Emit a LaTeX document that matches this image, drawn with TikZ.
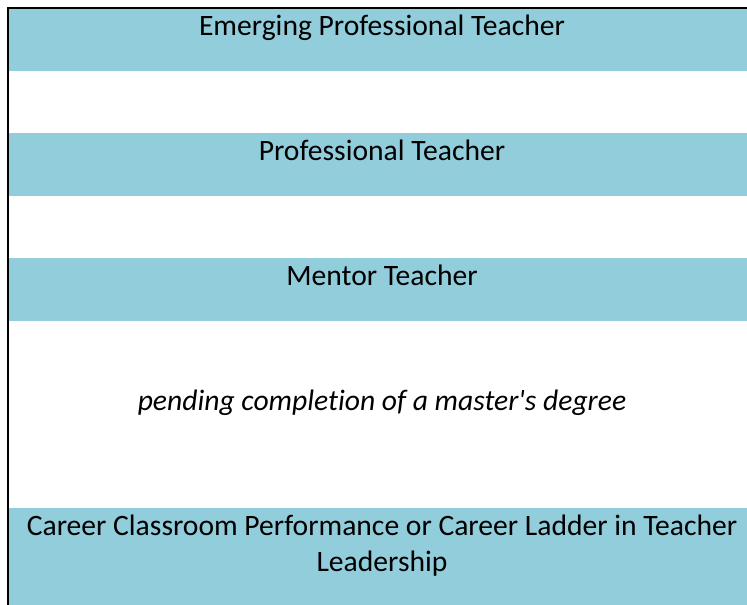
\documentclass[tikz,border=0pt]{standalone}
\usepackage{fontspec}
\setmainfont[Ligatures={NoCommon}]{Carlito}
\definecolor{bandblue}{HTML}{92CDDC}

\begin{document}
\begin{tikzpicture}[x=0.75pt, y=-0.75pt]
   \tikzstyle{band}=[fill=bandblue, draw=none]
   \tikzstyle{rung}=[anchor=base, inner sep=0pt, font=\fontsize{22.2}{27}\selectfont, align=center]
   \useasboundingbox (0,0) rectangle (747,605);

   % shaded rows
   \fill[band] (9,9) rectangle (747,71);
   \fill[band] (9,133) rectangle (747,196);
   \fill[band] (9,258) rectangle (747,321);
   \fill[band] (9,508) rectangle (747,605);

   % frame
   \draw[line width=1.75pt] (8,605) -- (8,8) -- (747,8);

\node[rung] (emerging) at (382,36) {Emerging Professional Teacher};
\node[rung] (professional) at (382,161) {Professional Teacher};
\node[rung] (mentor) at (382,286) {Mentor Teacher};
\node[rung, font=\fontsize{22.2}{27}\selectfont\itshape] (pending) at (382,411) {pending completion of a master\textquotesingle s degree};
\node[rung] (career) at (382,536) {Career Classroom Performance or Career Ladder in Teacher};
\node[rung] (leadership) at (382,572) {Leadership};

\end{tikzpicture}
\end{document}
